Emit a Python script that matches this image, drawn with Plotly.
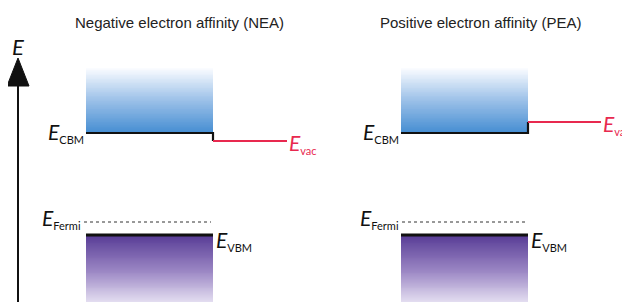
import numpy as np
import plotly.graph_objects as go

# ---- data (schematic energy levels, arbitrary units) ----
panel_titles = ["Negative electron affinity (NEA)", "Positive electron affinity (PEA)"]
E_CBM = [169, 169]
E_vac = [161, 180]
E_Fermi = [80, 80]
E_VBM = [67, 67]
CB_top = [234, 234]
VB_bottom = [-8, -8]

# ---- layout (positions) ----
W, H = 630, 302
PAGE_OFFSET = 8  # default body margin of the html page
box_x0 = [86, 401]
box_x1 = [213, 528]
vac_end = [287, 601]
fermi_x = [(84, 211), (402, 525)]
title_x = [179, 480]
RED = "#e8294f"
LABEL_FONT = "Lato"
N = 80

fig = go.Figure()


def lab(x, y, main, sub, anchor, color="#111"):
    fig.add_annotation(
        x=x, y=y, xref="x", yref="y", showarrow=False, xanchor=anchor, yanchor="middle",
        borderpad=0,
        text=f"<i>{main}</i><sub><span style='font-size:11px'>{sub}</span></sub>",
        font=dict(family=LABEL_FONT, size=21, color=color))


for i in range(2):
    x0, x1 = box_x0[i], box_x1[i]
    # conduction band gradient
    ycb = np.linspace(E_CBM[i], CB_top[i], N + 1)
    zcb = np.linspace(0, 1, N).reshape(-1, 1)
    fig.add_trace(go.Heatmap(
        x=[x0, x1], y=ycb, z=zcb, showscale=False, hoverinfo="skip",
        colorscale=[[0, "rgb(70,142,210)"], [0.5, "rgb(155,192,232)"], [1, "rgb(250,252,255)"]],
        zmin=0, zmax=1))
    # valence band gradient
    yvb = np.linspace(VB_bottom[i], E_VBM[i], N + 1)
    zvb = np.linspace(0, 1, N).reshape(-1, 1)
    fig.add_trace(go.Heatmap(
        x=[x0, x1], y=yvb, z=zvb, showscale=False, hoverinfo="skip",
        colorscale=[[0, "rgb(246,244,252)"], [0.5, "rgb(158,138,198)"], [1, "rgb(88,60,150)"]],
        zmin=0, zmax=1))
    # CBM line + step to vacuum level
    fig.add_trace(go.Scatter(
        x=[x0, x1, x1], y=[E_CBM[i], E_CBM[i], E_vac[i]], mode="lines",
        line=dict(color="#111", width=2.2), hoverinfo="skip", showlegend=False))
    fig.add_trace(go.Scatter(
        x=[x1, vac_end[i]], y=[E_vac[i], E_vac[i]], mode="lines",
        line=dict(color=RED, width=2), hoverinfo="skip", showlegend=False))
    # Fermi level
    fig.add_trace(go.Scatter(
        x=list(fermi_x[i]), y=[E_Fermi[i], E_Fermi[i]], mode="lines",
        line=dict(color="#333", width=1, dash="dot"), hoverinfo="skip", showlegend=False))
    # VBM line
    fig.add_trace(go.Scatter(
        x=[x0, x1], y=[E_VBM[i], E_VBM[i]], mode="lines",
        line=dict(color="#111", width=3), hoverinfo="skip", showlegend=False))

    # labels
    lab(x0 - 1, E_CBM[i] + 1, "E", "CBM", "right")
    lab(vac_end[i] + 1, E_vac[i] - 2, "E", "vac", "left", RED)
    lab(fermi_x[i][0] - 2, E_Fermi[i] + 4, "E", "Fermi", "right")
    lab(x1 + 2, E_VBM[i] - 5, "E", "VBM", "left")

    fig.add_annotation(x=title_x[i], y=H - 22, xref="x", yref="y", showarrow=False,
                       text=panel_titles[i], font=dict(family="Liberation Sans", size=15, color="#222"))

# energy axis arrow
ax_x = 18
fig.add_trace(go.Scatter(x=[ax_x, ax_x], y=[-8, H - 84], mode="lines",
                         line=dict(color="#111", width=2), hoverinfo="skip", showlegend=False))
fig.add_trace(go.Scatter(x=[ax_x - 11, ax_x + 11, ax_x, ax_x - 11], y=[H - 86, H - 86, H - 58, H - 86],
                         mode="lines", fill="toself", fillcolor="#111", line=dict(color="#111", width=1),
                         hoverinfo="skip", showlegend=False))
fig.add_annotation(x=ax_x, y=H - 46, xref="x", yref="y", showarrow=False, text="<i>E</i>",
                   font=dict(family=LABEL_FONT, size=22, color="#111"))

# figure is as large as the window; the page's body margin pushes the extra off-screen
fig.update_layout(
    width=W, height=H, margin=dict(l=0, r=0, t=0, b=0),
    paper_bgcolor="white", plot_bgcolor="white", showlegend=False,
    xaxis=dict(range=[PAGE_OFFSET, W + PAGE_OFFSET], visible=False, fixedrange=True),
    yaxis=dict(range=[-PAGE_OFFSET, H - PAGE_OFFSET], visible=False, fixedrange=True),
)
fig.write_html("out.html")
